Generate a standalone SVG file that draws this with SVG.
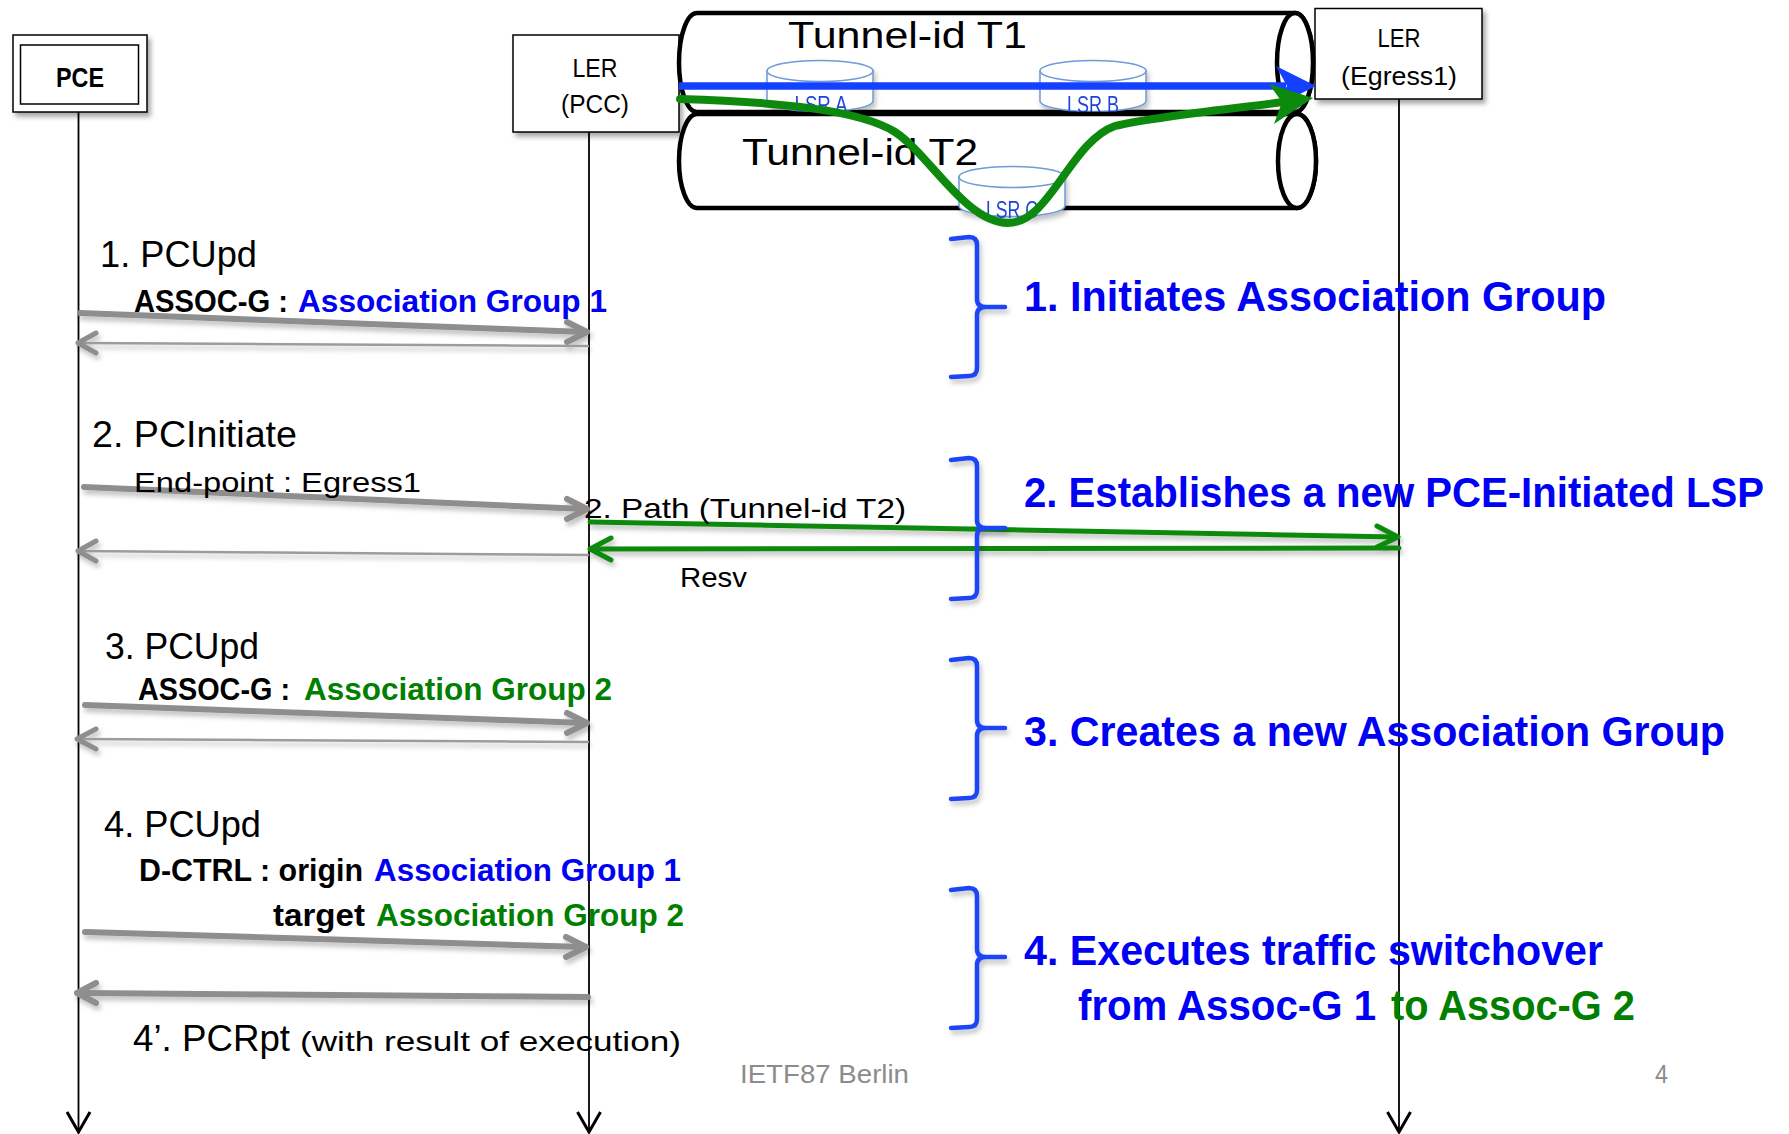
<svg xmlns="http://www.w3.org/2000/svg" width="1789" height="1134" viewBox="0 0 1789 1134">
<defs>
<filter id="sh" filterUnits="userSpaceOnUse" x="0" y="0" width="1789" height="1134">
<feDropShadow dx="3" dy="4" stdDeviation="2.5" flood-color="#000" flood-opacity="0.35"/>
</filter>
<filter id="shl" filterUnits="userSpaceOnUse" x="0" y="0" width="1789" height="1134">
<feDropShadow dx="2" dy="4" stdDeviation="2.5" flood-color="#000" flood-opacity="0.25"/>
</filter>
</defs>
<style>
text{font-family:"Liberation Sans",Arial,sans-serif;fill:#000}
.box{fill:#fff;stroke:#000;stroke-width:1.5}
.life{stroke:#000;stroke-width:1.8;fill:none}
.lhead{stroke:#000;stroke-width:3;fill:none;stroke-linejoin:miter}
.gthick{stroke:#8e8e8e;stroke-width:6;fill:none;stroke-linecap:round;stroke-linejoin:round}
.ghead{stroke:#8e8e8e;stroke-width:5;fill:none;stroke-linecap:round;stroke-linejoin:round}
.gthin{stroke:#9c9c9c;stroke-width:2.5;fill:none;stroke-linecap:round;stroke-linejoin:round}
.gr{stroke:#0d8a0d;stroke-width:5;fill:none;stroke-linecap:round;stroke-linejoin:round}
.grcurve{stroke:#0d8a0d;stroke-width:8;fill:none;stroke-linecap:round;stroke-linejoin:round}
.tunnel{fill:#fff;stroke:#000;stroke-width:4.5}
.lsr{fill:#fff;stroke:#6f9bd6;stroke-width:1.5}
.lsrt{font-size:23px;fill:#1f45d6}
.brace{fill:none;stroke:#1a44f5;stroke-width:4.5;stroke-linecap:round;stroke-linejoin:round}
.title{font-size:37px}
.sub{font-size:31px;font-weight:bold}
.reg{font-size:28px}
.right{font-size:42px;font-weight:bold;fill:#0000f5}
.blue{fill:#0000f5}
.green{fill:#007f00}
.node{font-size:26px}
.foot{font-size:25px;fill:#8c8c8c}
</style>
<rect width="1789" height="1134" fill="#fff"/>

<g id="lifelines">
<line class="life" x1="78.5" y1="112" x2="78.5" y2="1132"/>
<polyline class="lhead" points="67,1112 78.5,1132 90,1112"/>
<line class="life" x1="589" y1="132" x2="589" y2="1132"/>
<polyline class="lhead" points="577.5,1112 589,1132 600.5,1112"/>
<line class="life" x1="1399" y1="99" x2="1399" y2="1132"/>
<polyline class="lhead" points="1387.5,1112 1399,1132 1410.5,1112"/>
</g>

<g id="node-pce">
<rect class="box" x="13" y="35" width="134" height="77" filter="url(#sh)"/>
<rect class="box" x="20.5" y="45" width="118" height="59"/>
<text x="80" y="87" font-size="28" font-weight="bold" text-anchor="middle" textLength="48" lengthAdjust="spacingAndGlyphs">PCE</text>
</g>

<g id="node-ler-pcc">
<rect class="box" x="513" y="35" width="166" height="97" filter="url(#sh)"/>
<text class="node" x="595" y="77" text-anchor="middle" textLength="45" lengthAdjust="spacingAndGlyphs">LER</text>
<text class="node" x="595" y="113" text-anchor="middle" textLength="68" lengthAdjust="spacingAndGlyphs">(PCC)</text>
</g>

<g id="node-ler-egress">
<rect class="box" x="1315" y="8.5" width="167" height="90.5" filter="url(#sh)"/>
<text class="node" x="1399" y="47" text-anchor="middle" textLength="43" lengthAdjust="spacingAndGlyphs">LER</text>
<text class="node" x="1399" y="85" text-anchor="middle" textLength="116" lengthAdjust="spacingAndGlyphs">(Egress1)</text>
</g>

<g id="tunnel-t1">
<path class="tunnel" d="M697,13 L1295,13 A18,49.5 0 0 1 1295,112 L697,112 A18,49.5 0 0 1 697,13 Z"/>
<ellipse class="tunnel" cx="1295" cy="62.5" rx="18" ry="49.5"/>
<text x="788" y="48" font-size="37" textLength="239" lengthAdjust="spacingAndGlyphs">Tunnel-id T1</text>
</g>

<g id="lsr-a" filter="url(#shl)">
<path class="lsr" d="M767,71 V101 A53,10.5 0 0 0 873,101 V71 Z"/>
<ellipse class="lsr" cx="820" cy="71" rx="53" ry="10.5"/>
<text class="lsrt" x="821" y="113" text-anchor="middle" textLength="53" lengthAdjust="spacingAndGlyphs">LSR A</text>
</g>

<g id="lsr-b" filter="url(#shl)">
<path class="lsr" d="M1040,71 V101 A53,10.5 0 0 0 1146,101 V71 Z"/>
<ellipse class="lsr" cx="1093" cy="71" rx="53" ry="10.5"/>
<text class="lsrt" x="1093" y="113" text-anchor="middle" textLength="52" lengthAdjust="spacingAndGlyphs">LSR B</text>
</g>

<g id="tunnel-t2">
<path class="tunnel" d="M697,114 L1297,114 A19,47 0 0 1 1297,208 L697,208 A18,47 0 0 1 697,114 Z"/>
<ellipse class="tunnel" cx="1297" cy="161" rx="19" ry="47"/>
<text x="742" y="165" font-size="37" textLength="236" lengthAdjust="spacingAndGlyphs">Tunnel-id T2</text>
</g>

<g id="lsr-c" filter="url(#shl)">
<path class="lsr" d="M959,177 V206 A53,10.5 0 0 0 1065,206 V177 Z"/>
<ellipse class="lsr" cx="1012" cy="177" rx="53" ry="10.5"/>
<text class="lsrt" x="1012" y="218" text-anchor="middle" textLength="52" lengthAdjust="spacingAndGlyphs">LSR C</text>
</g>

<g id="paths">
<line x1="679" y1="86" x2="1286" y2="86" stroke="#1440ff" stroke-width="7.5"/>
<polygon points="1316,86 1276,66 1287,86 1276,106" fill="#1440ff"/>
<path class="grcurve" d="M680,99 C780,102 860,110 895,132 C930,155 965,222 1008,223 C1050,223 1070,142 1115,126 C1150,117 1230,109 1283,102"/>
<polygon points="1313,98 1269,84 1282,102 1274,124" fill="#0d8a0d"/>
</g>

<g id="connectors">
<g filter="url(#shl)">
<line class="gthick" x1="80" y1="313" x2="585" y2="332"/>
<polyline class="gthick" points="567,322 587,332 567,342"/>
<line class="gthin" x1="588" y1="346" x2="78" y2="343"/>
<polyline class="ghead" points="96,333 78,343 96,353"/>

<line class="gthick" x1="84" y1="487" x2="585" y2="509"/>
<polyline class="gthick" points="567,499 587,509 567,519"/>
<line class="gthin" x1="588" y1="555" x2="78" y2="551"/>
<polyline class="ghead" points="96,541 78,551 96,561"/>

<line class="gthick" x1="85" y1="705" x2="585" y2="723"/>
<polyline class="gthick" points="567,713 587,723 567,733"/>
<line class="gthin" x1="588" y1="742" x2="77" y2="739"/>
<polyline class="ghead" points="96,729 77,739 96,749"/>

<line class="gthick" x1="85" y1="932" x2="584" y2="947"/>
<polyline class="gthick" points="566,937 586,947 566,957"/>
<line class="gthick" x1="588" y1="997" x2="79" y2="993"/>
<polyline class="gthick" points="96,983 77,993 96,1003"/>
</g>
<g filter="url(#shl)">
<line class="gr" x1="590" y1="522" x2="1396" y2="537"/>
<polyline class="gr" points="1377,526 1398,537 1377,547"/>
<line class="gr" x1="1399" y1="548" x2="592" y2="549"/>
<polyline class="gr" points="611,538 590,549 611,560"/>
</g>
</g>

<g id="braces" filter="url(#shl)">
<path class="brace" d="M951,239 L969,237 Q977,237 977,245 L977,299 Q977,307 986,307 L1005,307 M986,307 Q977,307 977,315 L977,368 Q977,376 969,376 L951,377"/>
<path class="brace" d="M951,460 L969,458 Q977,458 977,466 L977,520 Q977,528 986,528 L1005,528 M986,528 Q977,528 977,536 L977,590 Q977,598 969,598 L951,599"/>
<path class="brace" d="M951,660 L969,658 Q977,658 977,666 L977,720 Q977,728 986,728 L1005,728 M986,728 Q977,728 977,736 L977,790 Q977,798 969,798 L951,799"/>
<path class="brace" d="M951,890 L969,888 Q977,888 977,896 L977,949 Q977,957 986,957 L1005,957 M986,957 Q977,957 977,965 L977,1019 Q977,1027 969,1027 L951,1028"/>
</g>

<g id="step1">
<text class="title" x="100" y="267" textLength="157" lengthAdjust="spacingAndGlyphs">1. PCUpd</text>
<text class="sub" x="134" y="312" textLength="154" lengthAdjust="spacingAndGlyphs">ASSOC-G :</text>
<text class="sub blue" x="298" y="312" textLength="309" lengthAdjust="spacingAndGlyphs">Association Group 1</text>
</g>

<g id="step2">
<text class="title" x="92" y="447" textLength="205" lengthAdjust="spacingAndGlyphs">2. PCInitiate</text>
<text class="reg" x="134" y="492" textLength="287" lengthAdjust="spacingAndGlyphs">End-point : Egress1</text>
<text class="reg" x="584" y="518" textLength="322" lengthAdjust="spacingAndGlyphs">2. Path (Tunnel-id T2)</text>
<text class="reg" x="680" y="587" textLength="67" lengthAdjust="spacingAndGlyphs">Resv</text>
</g>

<g id="step3">
<text class="title" x="105" y="659" textLength="154" lengthAdjust="spacingAndGlyphs">3. PCUpd</text>
<text class="sub" x="138" y="700" textLength="152" lengthAdjust="spacingAndGlyphs">ASSOC-G :</text>
<text class="sub green" x="304" y="700" textLength="308" lengthAdjust="spacingAndGlyphs">Association Group 2</text>
</g>

<g id="step4">
<text class="title" x="104" y="837" textLength="157" lengthAdjust="spacingAndGlyphs">4. PCUpd</text>
<text class="sub" x="139" y="881" textLength="224" lengthAdjust="spacingAndGlyphs">D-CTRL : origin</text>
<text class="sub blue" x="374" y="881" textLength="307" lengthAdjust="spacingAndGlyphs">Association Group 1</text>
<text class="sub" x="273" y="926" textLength="92" lengthAdjust="spacingAndGlyphs">target</text>
<text class="sub green" x="376" y="926" textLength="308" lengthAdjust="spacingAndGlyphs">Association Group 2</text>
<text class="title" x="133" y="1051" textLength="157" lengthAdjust="spacingAndGlyphs">4’. PCRpt</text>
<text class="reg" x="300" y="1051" textLength="381" lengthAdjust="spacingAndGlyphs">(with result of execution)</text>
</g>

<g id="descriptions">
<text class="right" x="1024" y="311" textLength="582" lengthAdjust="spacingAndGlyphs">1. Initiates Association Group</text>
<text class="right" x="1024" y="507" font-size="41" textLength="740" lengthAdjust="spacingAndGlyphs">2. Establishes a new PCE-Initiated LSP</text>
<text class="right" x="1024" y="746" textLength="701" lengthAdjust="spacingAndGlyphs">3. Creates a new Association Group</text>
<text class="right" x="1024" y="965" textLength="579" lengthAdjust="spacingAndGlyphs">4. Executes traffic switchover</text>
<text class="right" x="1078" y="1020" textLength="298" lengthAdjust="spacingAndGlyphs">from Assoc-G 1</text>
<text class="right green" x="1391" y="1020" textLength="244" lengthAdjust="spacingAndGlyphs">to Assoc-G 2</text>
</g>

<g id="footer">
<text class="foot" x="740" y="1083" textLength="169" lengthAdjust="spacingAndGlyphs">IETF87 Berlin</text>
<text class="foot" x="1655" y="1083" textLength="13" lengthAdjust="spacingAndGlyphs">4</text>
</g>
</svg>
